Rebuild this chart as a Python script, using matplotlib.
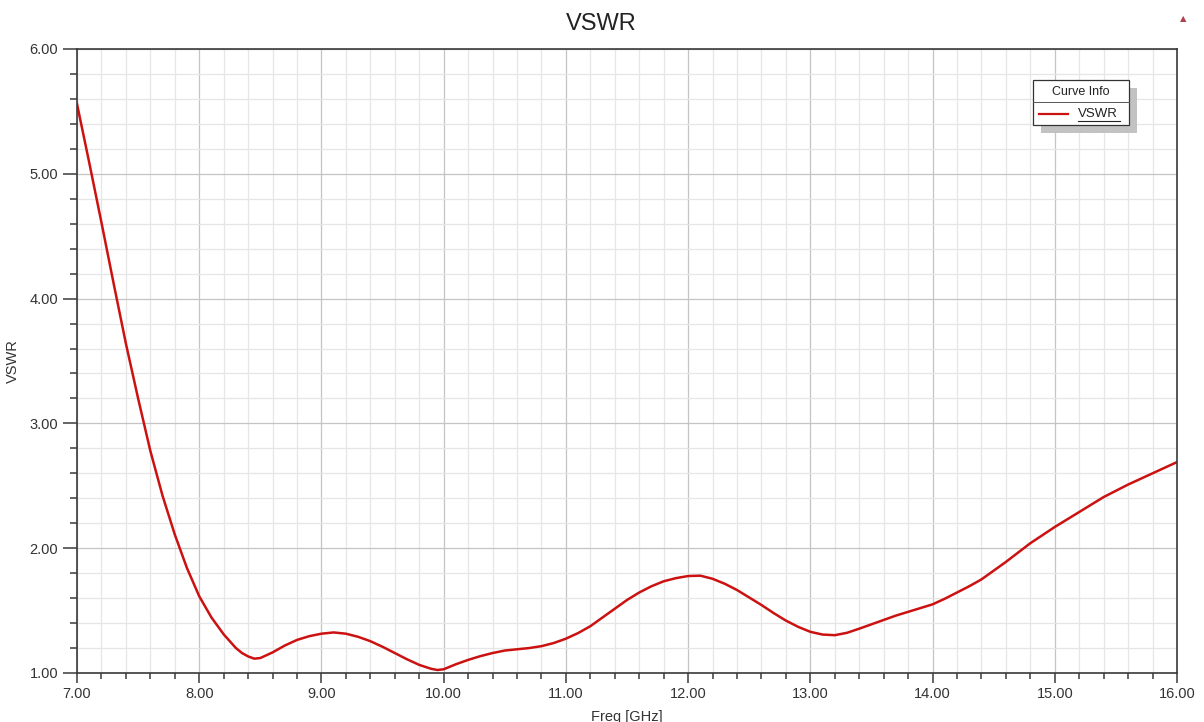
import matplotlib
matplotlib.use("Agg")
import matplotlib.pyplot as plt
from matplotlib.ticker import MultipleLocator, FormatStrFormatter
from matplotlib.patches import Rectangle
from matplotlib.lines import Line2D

plt.rcParams['font.family'] = ['Liberation Sans', 'DejaVu Sans']

# Frequency sweep (GHz) and the simulated VSWR at each point
freq_ghz = [7.0, 7.1, 7.2, 7.3, 7.4, 7.5, 7.6, 7.7, 7.8, 7.9,
            8.0, 8.1, 8.2, 8.3, 8.35, 8.4, 8.45, 8.5, 8.6, 8.7, 8.8, 8.9,
            9.0, 9.1, 9.2, 9.3, 9.4, 9.5, 9.6, 9.7, 9.8, 9.9, 9.95,
            10.0, 10.1, 10.2, 10.3, 10.4, 10.5, 10.6, 10.7, 10.8, 10.9,
            11.0, 11.1, 11.2, 11.3, 11.4, 11.5, 11.6, 11.7, 11.8, 11.9,
            12.0, 12.1, 12.2, 12.3, 12.4, 12.5, 12.6, 12.7, 12.8, 12.9,
            13.0, 13.1, 13.2, 13.3, 13.4, 13.5, 13.6, 13.7, 13.8, 13.9,
            14.0, 14.1, 14.2, 14.3, 14.4, 14.5, 14.6, 14.7, 14.8, 14.9,
            15.0, 15.1, 15.2, 15.3, 15.4, 15.5, 15.6, 15.7, 15.8, 15.9,
            16.0]
vswr = [5.56, 5.09, 4.61, 4.12, 3.64, 3.20, 2.78, 2.42, 2.11, 1.84,
        1.615, 1.445, 1.31, 1.20, 1.16, 1.133, 1.115, 1.12, 1.165, 1.22, 1.265, 1.295,
        1.315, 1.325, 1.315, 1.29, 1.255, 1.21, 1.16, 1.11, 1.065, 1.033, 1.024,
        1.03, 1.07, 1.105, 1.135, 1.16, 1.18, 1.19, 1.20, 1.215, 1.24,
        1.275, 1.32, 1.375, 1.445, 1.515, 1.585, 1.645, 1.695, 1.735, 1.76,
        1.777, 1.78, 1.755, 1.715, 1.665, 1.605, 1.545, 1.48, 1.42, 1.37,
        1.33, 1.308, 1.303, 1.322, 1.355, 1.39, 1.425, 1.46, 1.49, 1.52,
        1.55, 1.595, 1.645, 1.695, 1.75, 1.82, 1.89, 1.965, 2.04, 2.105,
        2.17, 2.23, 2.29, 2.35, 2.41, 2.46, 2.51, 2.555, 2.60, 2.645,
        2.69]

series_name = "VSWR"
curve_color = "#cc1111"

W, H = 1204, 722
fig = plt.figure(figsize=(W / 100, H / 100), dpi=100)
fig.patch.set_facecolor("white")

ax = fig.add_axes([77 / W, (H - 673) / H, 1100 / W, (673 - 49) / H])
ax.plot(freq_ghz, vswr, color=curve_color, lw=1.8, solid_joinstyle="round")

ax.set_xlim(7.0, 16.0)
ax.set_ylim(1.0, 6.0)
ax.xaxis.set_major_locator(MultipleLocator(1.0))
ax.xaxis.set_minor_locator(MultipleLocator(0.2))
ax.yaxis.set_major_locator(MultipleLocator(1.0))
ax.yaxis.set_minor_locator(MultipleLocator(0.2))
ax.xaxis.set_major_formatter(FormatStrFormatter("%.2f"))
ax.yaxis.set_major_formatter(FormatStrFormatter("%.2f"))

ax.grid(which="major", color="#c4c4c4", lw=0.9)
ax.grid(which="minor", color="#e6e6e6", lw=0.9)
ax.set_axisbelow(True)

for s in ax.spines.values():
    s.set_color("#3a3a3a")
    s.set_linewidth(1.2)

ax.tick_params(axis="x", which="major", direction="out", length=7.5, width=1.1,
               color="#3a3a3a", labelsize=10.5, pad=2.5, labelcolor="#333333")
ax.tick_params(axis="x", which="minor", direction="out", length=4.5, width=1.1,
               color="#3a3a3a")
ax.tick_params(axis="y", which="major", direction="out", length=10, width=1.1,
               color="#3a3a3a", labelsize=10.5, pad=3.5, labelcolor="#333333")
ax.tick_params(axis="y", which="minor", direction="out", length=5, width=1.1,
               color="#3a3a3a")

ax.set_xlabel("Freq [GHz]", fontsize=10.5, color="#333333")
ax.set_ylabel("VSWR", fontsize=10.5, color="#333333")
ax.xaxis.set_label_coords(0.5, (673 - 710) / 624)
ax.yaxis.set_label_coords((20 - 77) / 1100, 0.5)

fig.text(601 / W, 1 - 24 / H, "VSWR", ha="center", va="center",
         fontsize=17, color="#222222")

# small marker glyph in the top-right corner
fig.text(1183 / W, 1 - 19 / H, "\u25B2", ha="center", va="center",
         fontsize=6, color="#b04050", family=["DejaVu Sans"])


def fx(px):
    return px / W


def fy(py):
    return 1 - py / H


# "Curve Info" box with drop shadow
bx0, bx1, by0, by1 = 1033, 1129, 80, 125
fig.patches.append(Rectangle((fx(bx0 + 8), fy(by1 + 8)), fx(bx1 - bx0), (by1 - by0) / H,
                             transform=fig.transFigure, facecolor="#c2c2c2",
                             edgecolor="none", zorder=5))
fig.patches.append(Rectangle((fx(bx0), fy(by1)), fx(bx1 - bx0), (by1 - by0) / H,
                             transform=fig.transFigure, facecolor="white",
                             edgecolor="#333333", lw=0.9, zorder=6))
fig.lines.append(Line2D([fx(bx0), fx(bx1)], [fy(102), fy(102)],
                        transform=fig.transFigure, color="#555555", lw=0.7, zorder=7))
fig.text(fx(1081), fy(92), "Curve Info", ha="center", va="center",
         fontsize=9, color="#222222", zorder=8)
fig.lines.append(Line2D([fx(1039), fx(1068)], [fy(114), fy(114)],
                        transform=fig.transFigure, color=curve_color, lw=1.6, zorder=8))
fig.text(fx(1078), fy(114), series_name, ha="left", va="center",
         fontsize=9.5, color="#222222", zorder=8)
fig.lines.append(Line2D([fx(1078), fx(1120)], [fy(120.5), fy(120.5)],
                        transform=fig.transFigure, color="#222222", lw=0.8, zorder=8))

fig.savefig("out.png", dpi=100, facecolor="white")
